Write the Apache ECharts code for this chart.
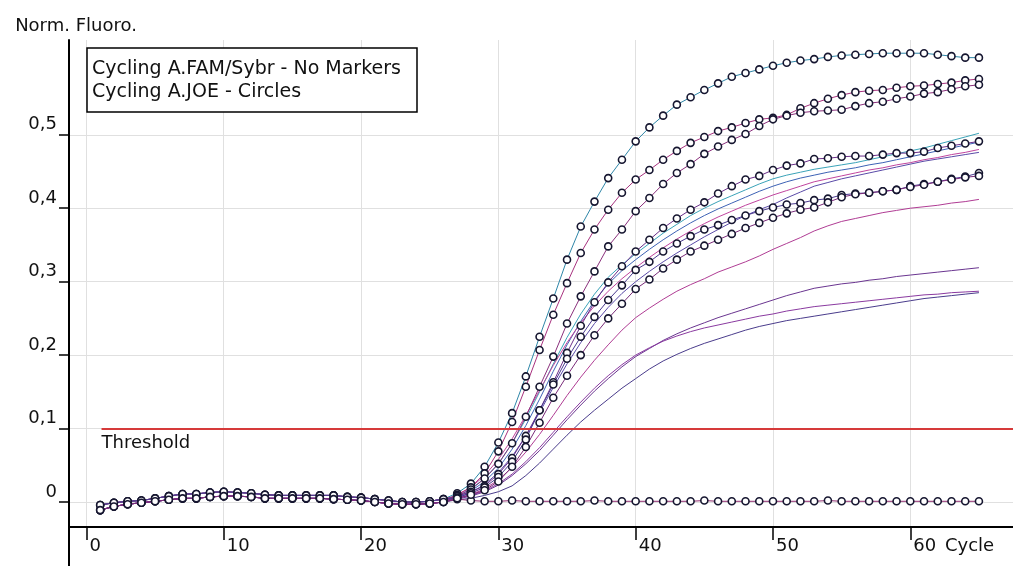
<!DOCTYPE html>
<html>
<head>
<meta charset="utf-8">
<title>Norm. Fluoro. - Cycle</title>
<script src="https://cdn.jsdelivr.net/npm/echarts@6/dist/echarts.min.js"></script>
<style>
  html, body { margin: 0; padding: 0; background: #fff; }
  #chart { width: 1013px; height: 566px; }
</style>
</head>
<body>
<div id="chart"></div>
<script>
// cycle numbers (x values)
var cycles = [1, 2, 3, 4, 5, 6, 7, 8, 9, 10, 11, 12, 13, 14, 15, 16, 17, 18, 19, 20,
  21, 22, 23, 24, 25, 26, 27, 28, 29, 30, 31, 32, 33, 34, 35, 36, 37, 38, 39, 40,
  41, 42, 43, 44, 45, 46, 47, 48, 49, 50, 51, 52, 53, 54, 55, 56, 57, 58, 59, 60,
  61, 62, 63, 64, 65];
var xTicks = [0, 10, 20, 30, 40, 50, 60];
var yTicks = [0, 0.1, 0.2, 0.3, 0.4, 0.5];
var threshold = 0.1;

// baseline, cycles 1-26 (all curves sit on it)
var baseHigh = [-0.004, -0.001, 0.001, 0.002, 0.005, 0.008, 0.011, 0.011, 0.013, 0.014,
  0.013, 0.012, 0.010, 0.009, 0.009, 0.009, 0.009, 0.009, 0.007, 0.006,
  0.004, 0.002, 0.000, 0.000, 0.001, 0.004];
var baseLow = [-0.011, -0.006, -0.003, -0.001, 0.001, 0.003, 0.005, 0.005, 0.007, 0.008,
  0.008, 0.007, 0.005, 0.005, 0.005, 0.005, 0.005, 0.004, 0.003, 0.002,
  0.000, -0.002, -0.003, -0.003, -0.002, 0.000];

// JOE (circles), cycles 27-65
var joeA = [0.012, 0.025, 0.048, 0.081, 0.121, 0.171, 0.225, 0.277, 0.330, 0.375,
  0.409, 0.441, 0.466, 0.491, 0.510, 0.526, 0.541, 0.551, 0.561, 0.570,
  0.579, 0.584, 0.589, 0.594, 0.598, 0.601, 0.603, 0.606, 0.608, 0.609,
  0.610, 0.611, 0.611, 0.611, 0.611, 0.609, 0.607, 0.605, 0.605];
var joeB = [0.010, 0.020, 0.039, 0.069, 0.109, 0.157, 0.207, 0.255, 0.298, 0.339,
  0.371, 0.398, 0.421, 0.439, 0.452, 0.466, 0.478, 0.489, 0.497, 0.505,
  0.510, 0.516, 0.521, 0.523, 0.527, 0.536, 0.543, 0.549, 0.554, 0.558,
  0.560, 0.561, 0.564, 0.566, 0.567, 0.569, 0.571, 0.574, 0.576];
var joeC = [0.008, 0.017, 0.032, 0.052, 0.080, 0.116, 0.157, 0.198, 0.243, 0.280,
  0.314, 0.348, 0.371, 0.396, 0.414, 0.433, 0.448, 0.460, 0.474, 0.484,
  0.493, 0.501, 0.512, 0.521, 0.526, 0.530, 0.532, 0.533, 0.534, 0.539,
  0.543, 0.545, 0.549, 0.552, 0.556, 0.558, 0.562, 0.566, 0.568];
var joeD = [0.008, 0.014, 0.022, 0.038, 0.060, 0.090, 0.125, 0.163, 0.203, 0.240,
  0.272, 0.299, 0.321, 0.341, 0.357, 0.373, 0.386, 0.398, 0.408, 0.420,
  0.430, 0.439, 0.444, 0.452, 0.458, 0.461, 0.467, 0.468, 0.470, 0.471,
  0.471, 0.473, 0.475, 0.475, 0.477, 0.482, 0.485, 0.488, 0.491];
var joeE1 = [0.006, 0.012, 0.020, 0.034, 0.055, 0.085, 0.125, 0.160, 0.195, 0.225,
  0.252, 0.275, 0.295, 0.316, 0.327, 0.341, 0.352, 0.362, 0.371, 0.377,
  0.384, 0.390, 0.396, 0.401, 0.405, 0.407, 0.411, 0.413, 0.418, 0.420,
  0.421, 0.423, 0.425, 0.430, 0.433, 0.436, 0.440, 0.443, 0.448];
var joeE2 = [0.005, 0.010, 0.016, 0.028, 0.048, 0.075, 0.108, 0.142, 0.172, 0.200,
  0.227, 0.250, 0.270, 0.290, 0.303, 0.318, 0.330, 0.341, 0.349, 0.357,
  0.365, 0.373, 0.380, 0.387, 0.393, 0.398, 0.401, 0.408, 0.415, 0.419,
  0.421, 0.423, 0.425, 0.429, 0.432, 0.436, 0.439, 0.442, 0.444];
var joeNeg = [0.004, 0.002, 0.001, 0.001, 0.002, 0.001, 0.001, 0.001, 0.001, 0.001,
  0.002, 0.001, 0.001, 0.001, 0.001, 0.001, 0.001, 0.001, 0.002, 0.001,
  0.001, 0.001, 0.001, 0.001, 0.001, 0.001, 0.001, 0.002, 0.001, 0.001,
  0.001, 0.001, 0.001, 0.001, 0.001, 0.001, 0.001, 0.001, 0.001];

// FAM/Sybr (no markers), cycles 27-65
var famG = [0.008, 0.018, 0.032, 0.052, 0.080, 0.113, 0.150, 0.188, 0.224, 0.256,
  0.283, 0.306, 0.323, 0.338, 0.352, 0.366, 0.378, 0.390, 0.400, 0.409,
  0.417, 0.425, 0.433, 0.440, 0.445, 0.449, 0.453, 0.456, 0.459, 0.462,
  0.466, 0.470, 0.474, 0.478, 0.482, 0.487, 0.492, 0.497, 0.502];
var famH = [0.007, 0.015, 0.028, 0.046, 0.072, 0.104, 0.140, 0.178, 0.214, 0.246,
  0.274, 0.297, 0.315, 0.330, 0.344, 0.357, 0.369, 0.380, 0.390, 0.399,
  0.407, 0.415, 0.423, 0.430, 0.436, 0.441, 0.445, 0.449, 0.452, 0.455,
  0.459, 0.462, 0.466, 0.470, 0.474, 0.478, 0.482, 0.486, 0.490];
var famI = [0.009, 0.020, 0.036, 0.058, 0.086, 0.118, 0.152, 0.186, 0.217, 0.244,
  0.267, 0.287, 0.304, 0.319, 0.333, 0.346, 0.358, 0.369, 0.379, 0.388,
  0.396, 0.404, 0.411, 0.418, 0.424, 0.430, 0.436, 0.440, 0.444, 0.448,
  0.452, 0.455, 0.459, 0.462, 0.466, 0.469, 0.473, 0.476, 0.480];
var famJ = [0.006, 0.013, 0.024, 0.040, 0.062, 0.090, 0.122, 0.156, 0.188, 0.217,
  0.243, 0.265, 0.284, 0.300, 0.314, 0.327, 0.339, 0.350, 0.361, 0.371,
  0.381, 0.390, 0.398, 0.405, 0.414, 0.422, 0.430, 0.435, 0.440, 0.444,
  0.448, 0.452, 0.456, 0.460, 0.464, 0.467, 0.470, 0.473, 0.476];
var famK = [0.005, 0.010, 0.018, 0.030, 0.047, 0.068, 0.092, 0.118, 0.145, 0.170,
  0.193, 0.214, 0.234, 0.251, 0.264, 0.276, 0.287, 0.296, 0.304, 0.313,
  0.320, 0.327, 0.335, 0.344, 0.352, 0.360, 0.369, 0.376, 0.382, 0.386,
  0.390, 0.394, 0.397, 0.400, 0.402, 0.404, 0.407, 0.409, 0.412];
var famL = [0.004, 0.008, 0.014, 0.023, 0.036, 0.052, 0.070, 0.091, 0.112, 0.132,
  0.151, 0.168, 0.184, 0.198, 0.209, 0.220, 0.229, 0.237, 0.244, 0.251,
  0.257, 0.263, 0.269, 0.275, 0.281, 0.286, 0.291, 0.294, 0.297, 0.299,
  0.302, 0.304, 0.307, 0.309, 0.311, 0.313, 0.315, 0.317, 0.319];
var famM = [0.005, 0.009, 0.015, 0.025, 0.038, 0.055, 0.074, 0.095, 0.116, 0.136,
  0.155, 0.172, 0.187, 0.200, 0.210, 0.219, 0.226, 0.232, 0.237, 0.241,
  0.245, 0.249, 0.253, 0.256, 0.260, 0.263, 0.266, 0.268, 0.270, 0.272,
  0.274, 0.276, 0.278, 0.280, 0.282, 0.283, 0.285, 0.286, 0.287];
var famN = [0.003, 0.005, 0.009, 0.014, 0.022, 0.036, 0.053, 0.072, 0.091, 0.109,
  0.125, 0.140, 0.155, 0.168, 0.181, 0.192, 0.201, 0.209, 0.216, 0.222,
  0.228, 0.234, 0.239, 0.243, 0.247, 0.250, 0.253, 0.256, 0.259, 0.262,
  0.265, 0.268, 0.271, 0.274, 0.277, 0.279, 0.281, 0.283, 0.285];

var chart = echarts.init(document.getElementById('chart'));
var font = 'DejaVu Sans';

// join baseline + tail and pair with cycle numbers
function toPoints(base, tail) {
  var vals = base.concat(tail);
  var pts = [];
  for (var i = 0; i < cycles.length; i++) {
    pts.push([cycles[i], vals[i]]);
  }
  return pts;
}

// FAM first (under), JOE after (circles on top)
var curves = [
  { name: 'FAM 1', base: baseHigh, tail: famG, color: '#3aa3b8', circles: false },
  { name: 'FAM 2', base: baseLow, tail: famH, color: '#3d62b5', circles: false },
  { name: 'FAM 3', base: baseHigh, tail: famI, color: '#c0449e', circles: false },
  { name: 'FAM 4', base: baseLow, tail: famJ, color: '#5a4aa8', circles: false },
  { name: 'FAM 5', base: baseHigh, tail: famK, color: '#b03c94', circles: false },
  { name: 'FAM 6', base: baseLow, tail: famL, color: '#6a3590', circles: false },
  { name: 'FAM 7', base: baseHigh, tail: famM, color: '#8a3aa0', circles: false },
  { name: 'FAM 8', base: baseLow, tail: famN, color: '#4a3c8c', circles: false },
  { name: 'JOE neg', base: baseLow, tail: joeNeg, color: '#8e2a6e', circles: true },
  { name: 'JOE 1', base: baseHigh, tail: joeA, color: '#2e86a8', circles: true },
  { name: 'JOE 2', base: baseLow, tail: joeB, color: '#a8327f', circles: true },
  { name: 'JOE 3', base: baseHigh, tail: joeC, color: '#8a2f7c', circles: true },
  { name: 'JOE 4', base: baseLow, tail: joeD, color: '#6b2f8a', circles: true },
  { name: 'JOE 5', base: baseHigh, tail: joeE1, color: '#4a3a8f', circles: true },
  { name: 'JOE 6', base: baseLow, tail: joeE2, color: '#7a2b7a', circles: true }
];

var series = curves.map(function (c) {
  return {
    name: c.name,
    type: 'line',
    data: toPoints(c.base, c.tail),
    showSymbol: c.circles,
    symbol: 'circle',
    symbolSize: 7,
    lineStyle: { color: c.color, width: 1 },
    itemStyle: { color: '#ffffff', borderColor: '#161630', borderWidth: 1.6 },
    emphasis: { disabled: true },
    z: c.circles ? 3 : 2
  };
});

// threshold line
series.push({
  name: 'Threshold',
  type: 'line',
  data: [],
  markLine: {
    silent: true,
    symbol: ['none', 'none'],
    lineStyle: { color: '#d63a3a', width: 2, type: 'solid' },
    label: {
      show: true,
      position: 'insideStartBottom',
      distance: [0, 6],
      formatter: 'Threshold',
      fontFamily: font,
      fontSize: 18,
      color: '#111'
    },
    data: [[{ coord: [1.1, threshold] }, { coord: [67.48, threshold] }]]
  },
  z: 4
});

var option = {
  animation: false,
  backgroundColor: '#ffffff',
  textStyle: { fontFamily: font },
  title: {
    text: 'Cycling A.FAM/Sybr - No Markers\nCycling A.JOE - Circles',
    left: 87,
    top: 48,
    padding: [10, 16, 8, 5],
    borderColor: '#000',
    borderWidth: 1.5,
    backgroundColor: '#ffffff',
    textStyle: { fontFamily: font, fontSize: 19, fontWeight: 'normal', color: '#111', lineHeight: 23 }
  },
  grid: { left: 69, right: 0, top: 40, bottom: 39 },
  xAxis: {
    type: 'value',
    min: -1.27,
    max: 67.48,
    name: 'Cycle',
    nameLocation: 'end',
    nameGap: -68,
    nameTextStyle: { fontFamily: font, fontSize: 18, color: '#111', verticalAlign: 'top', padding: [10, 0, 0, 0] },
    axisLine: { onZero: false, lineStyle: { color: '#000', width: 2 } },
    axisTick: { show: true, customValues: xTicks, length: 13, lineStyle: { color: '#000', width: 1.5 } },
    axisLabel: {
      customValues: xTicks,
      align: 'left',
      margin: 10,
      padding: [0, 0, 0, 3],
      fontFamily: font,
      fontSize: 18,
      color: '#111'
    },
    splitLine: { show: true, lineStyle: { color: '#e0e0e0', width: 1 } }
  },
  yAxis: {
    type: 'value',
    min: -0.034,
    max: 0.629,
    name: 'Norm. Fluoro.',
    nameLocation: 'end',
    nameGap: 5,
    nameTextStyle: { fontFamily: font, fontSize: 18, color: '#111', padding: [0, 0, 0, 14] },
    axisLine: { show: true, onZero: false, lineStyle: { color: '#000', width: 2 } },
    axisTick: { show: true, customValues: yTicks, length: 10, lineStyle: { color: '#000', width: 1.5 } },
    axisLabel: {
      customValues: yTicks,
      margin: 12,
      verticalAlign: 'bottom',
      padding: [0, 0, 1, 0],
      fontFamily: font,
      fontSize: 18,
      color: '#111',
      formatter: function (v) {
        return v === 0 ? '0' : v.toFixed(1).replace('.', ',');
      }
    },
    splitLine: { show: true, lineStyle: { color: '#e0e0e0', width: 1 } }
  },
  graphic: [{
    type: 'line',
    shape: { x1: 69, y1: 527, x2: 69, y2: 566 },
    style: { stroke: '#000', lineWidth: 2 }
  }],
  series: series
};

chart.setOption(option);
window.addEventListener('resize', function () {
  chart.resize();
});
</script>
</body>
</html>
